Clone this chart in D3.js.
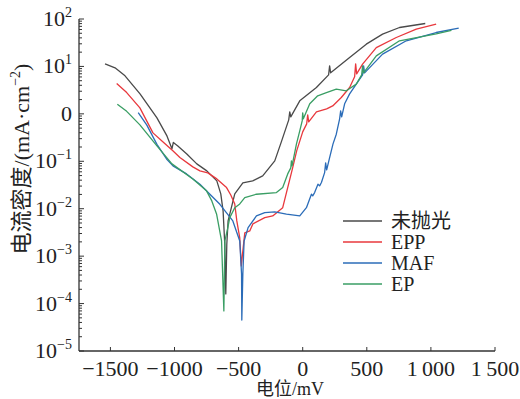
<!DOCTYPE html>
<html>
<head>
<meta charset="utf-8">
<script src="https://cdn.jsdelivr.net/npm/d3@7"></script>
<style>
  body { margin: 0; background: #fff; }
  svg { display: block; }
  text { font-family: "Liberation Serif", "Times New Roman", "Noto Sans CJK SC", serif; fill: #222; }
</style>
</head>
<body>
<svg id="chart" width="520" height="399"></svg>
<script>
// potential (mV) and current density (mA/cm2)
const potRaw = [-1542, -1464, -1386, -1269, -1137, -1059, -1020, -1009, -974, -904, -826, -748, -670, -639, -621, -608, -600, -592, -582, -530, -467, -390, -312, -218, -164, -109, -101, -93, -23, 107, 202, 210, 218, 366, 496, 623, 755, 956];
const curRaw = [11.3, 9.34, 6.33, 2.64, 0.824, 0.343, 0.183, 0.250, 0.211, 0.143, 0.0881, 0.0627, 0.0386, 0.0205, 0.0090, 0.00181, 0.00016, 0.00181, 0.00553, 0.0205, 0.035, 0.0386, 0.0492, 0.102, 0.269, 0.747, 1.10, 0.865, 1.88, 3.59, 6.65, 10.3, 7.33, 15.4, 29.5, 48.0, 66.2, 80.4];

const potEPP = [-1451, -1373, -1270, -1168, -1098, -1013, -958, -857, -802, -740, -670, -594, -561, -530, -514, -491, -479, -467, -452, -413, -389, -296, -234, -156, -117, -78, -47, 0, 31, 39, 47, 107, 187, 234, 301, 366, 405, 413, 421, 467, 574, 730, 886, 1041];
const curEPP = [4.36, 2.81, 1.34, 0.397, 0.269, 0.166, 0.120, 0.0762, 0.0627, 0.0569, 0.0425, 0.0279, 0.0195, 0.0126, 0.00553, 0.00242, 0.00062, 0.00129, 0.00308, 0.0034, 0.00478, 0.00649, 0.00705, 0.0105, 0.0279, 0.0736, 0.166, 0.417, 0.615, 0.953, 0.678, 1.10, 1.27, 1.47, 2.21, 3.59, 6.03, 11.3, 6.98, 11.2, 25.0, 40.7, 61.2, 78.0];

const potMAF = [-1283, -1217, -1137, -1062, -1012, -906, -802, -646, -545, -491, -477, -475, -467, -457, -426, -361, -296, -218, -127, -23, 29, 68, 78, 93, 119, 132, 146, 171, 179, 187, 210, 236, 262, 288, 296, 304, 327, 366, 467, 475, 483, 623, 808, 1041, 1217];
const curMAF = [1.06, 0.586, 0.227, 0.112, 0.080, 0.0542, 0.0329, 0.0124, 0.00553, 0.00209, 0.00042, 0.000045, 0.00042, 0.00209, 0.00399, 0.00705, 0.00828, 0.00855, 0.00766, 0.00705, 0.0105, 0.0202, 0.0186, 0.0219, 0.0329, 0.0303, 0.0356, 0.0578, 0.0925, 0.0659, 0.120, 0.230, 0.373, 0.785, 1.16, 0.865, 1.63, 2.64, 6.65, 10.3, 7.33, 18.2, 34.7, 51.9, 64.3];

const potEP = [-1446, -1373, -1270, -1137, -1020, -857, -750, -709, -672, -633, -615, -607, -584, -569, -530, -491, -452, -361, -205, -156, -117, -93, -88, -83, -49, -23, -4, 0, 5, 55, 117, 185, 262, 340, 418, 460, 467, 475, 574, 755, 1041, 1160];
const curEP = [1.59, 1.13, 0.586, 0.211, 0.0881, 0.0425, 0.0238, 0.0146, 0.00776, 0.00209, 0.00007, 0.00209, 0.00399, 0.00649, 0.0105, 0.0126, 0.0171, 0.0202, 0.0219, 0.0279, 0.0542, 0.0726, 0.102, 0.080, 0.230, 0.438, 0.711, 1.05, 0.785, 1.63, 2.40, 2.81, 3.32, 3.06, 4.23, 6.65, 10.3, 7.33, 16.7, 34.7, 48.7, 57.8];

const seriesNames = ["未抛光", "EPP", "MAF", "EP"];
const seriesColors = ["#4a4a4a", "#e8383d", "#2b6cb8", "#3a9e64"];
const xTicks = [-1500, -1000, -500, 0, 500, 1000, 1500];
const yExps = [2, 1, 0, -1, -2, -3, -4, -5];

const series = [
  { pot: potRaw, cur: curRaw },
  { pot: potEPP, cur: curEPP },
  { pot: potMAF, cur: curMAF },
  { pot: potEP, cur: curEP }
];

const svg = d3.select('#chart');
const m = { left: 79, right: 495, top: 19, bottom: 351 };
const fs = '22px', supFs = '14px';

const x = d3.scaleLinear().domain([-1745, 1500]).range([m.left, m.right]);
const y = d3.scaleLog().domain([1e-5, 1e2]).range([m.bottom, m.top]);

const axisColor = '#333';

// y axis with minor log ticks pointing inwards
const gy = svg.append('g');
gy.append('line').attr('x1', m.left).attr('x2', m.left).attr('y1', m.top).attr('y2', m.bottom)
  .attr('stroke', axisColor).attr('stroke-width', 1.3);
y.ticks().forEach(t => {
  const major = Math.abs(Math.log10(t) - Math.round(Math.log10(t))) < 1e-6;
  gy.append('line')
    .attr('x1', m.left).attr('x2', m.left + (major ? 5 : 3))
    .attr('y1', y(t)).attr('y2', y(t))
    .attr('stroke', axisColor).attr('stroke-width', 1);
});
yExps.forEach(e => {
  const t = gy.append('text')
    .attr('x', 72).attr('y', y(Math.pow(10, e)) + 7)
    .attr('text-anchor', 'end').style('font-size', fs);
  if (e === 0) {
    t.text('0');
  } else {
    t.append('tspan').text('10');
    t.append('tspan').attr('dy', -9).style('font-size', supFs)
      .text(e < 0 ? '\u2212' + Math.abs(e) : String(e));
  }
});

// x axis
const gx = svg.append('g');
gx.append('line').attr('x1', m.left).attr('x2', m.right).attr('y1', m.bottom).attr('y2', m.bottom)
  .attr('stroke', axisColor).attr('stroke-width', 1.3);
xTicks.forEach(v => {
  gx.append('line').attr('x1', x(v)).attr('x2', x(v)).attr('y1', m.bottom).attr('y2', m.bottom - 4)
    .attr('stroke', axisColor).attr('stroke-width', 1);
  const label = v < 0 ? '\u2212' + Math.abs(v) : (Math.abs(v) >= 1000 ? d3.format(',')(v).replace(',', '\u2009') : String(v));
  gx.append('text').attr('x', x(v)).attr('y', 376)
    .attr('text-anchor', 'middle').style('font-size', fs).text(label);
});

// axis titles
svg.append('text')
  .attr('x', 290).attr('y', 395)
  .attr('text-anchor', 'middle').style('font-size', '18px')
  .text('电位/mV');

const yt = svg.append('text')
  .attr('transform', 'translate(29,159) rotate(-90)')
  .attr('text-anchor', 'middle').style('font-size', fs);
yt.append('tspan').text('电流密度/(mA·cm');
yt.append('tspan').attr('dy', -9).style('font-size', supFs).text('\u22122');
yt.append('tspan').attr('dy', 9).text(')');

// curves
const line = d3.line()
  .x(d => x(d[0]))
  .y(d => y(d[1]));

series.forEach((s, i) => {
  const pts = s.pot.map((p, k) => [p, s.cur[k]]);
  svg.append('path')
    .datum(pts)
    .attr('d', line)
    .attr('fill', 'none')
    .attr('stroke', seriesColors[i])
    .attr('stroke-width', 1.3)
    .attr('stroke-linejoin', 'round');
});

// legend
const lg = svg.append('g');
seriesNames.forEach((name, i) => {
  const yy = 221 + i * 21;
  lg.append('line').attr('x1', 343).attr('x2', 382).attr('y1', yy).attr('y2', yy)
    .attr('stroke', seriesColors[i]).attr('stroke-width', 1.5);
  lg.append('text').attr('x', 391).attr('y', yy + 7)
    .style('font-size', '20px').text(name);
});
</script>
</body>
</html>
